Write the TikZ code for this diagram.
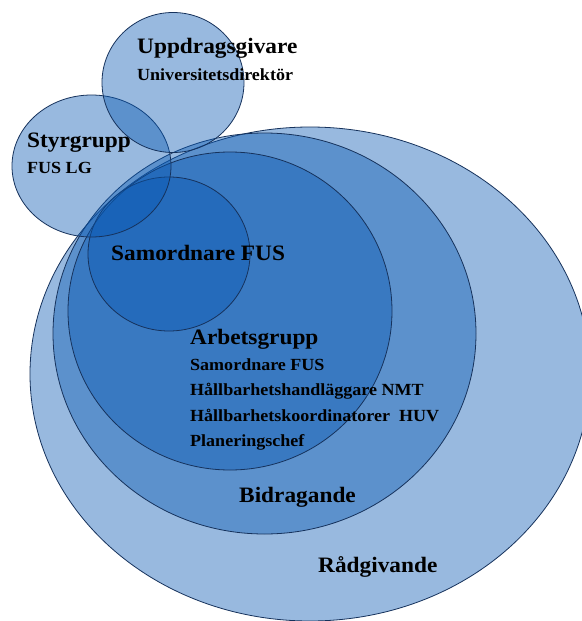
\documentclass[tikz,border=0pt]{standalone}
\usepackage{fontspec}
\setmainfont[FakeStretch=1.06]{Liberation Serif}
\usetikzlibrary{shapes.geometric}
\definecolor{ringfill}{RGB}{10,90,180}
\definecolor{ringline}{RGB}{22,50,92}
\tikzset{
  ring/.style={ellipse, inner sep=0pt, fill=ringfill, fill opacity=0.42, draw=ringline, draw opacity=1, line width=0.8pt},
  bigtxt/.style={anchor=base west, inner sep=0pt, font=\bfseries\fontsize{22}{24}\selectfont},
  smalltxt/.style={anchor=base west, inner sep=0pt, font=\bfseries\fontsize{17}{19}\selectfont}
}
\begin{document}
\begin{tikzpicture}[x=1pt,y=-1pt]
\fill[white] (0,0) rectangle (581,621);
\useasboundingbox (0,0) rectangle (581,621);
% rings
\node[ring, minimum width=560pt, minimum height=494pt] (radg) at (310,374) {};
\node[ring, minimum width=423pt, minimum height=401pt] (bidr) at (264.5,333.5) {};
\node[ring, minimum width=324pt, minimum height=318pt] (arbg) at (230,311) {};
\node[ring, minimum width=162pt, minimum height=154pt] (samo) at (169,254) {};
\node[ring, minimum width=159pt, minimum height=142pt] (styr) at (91.5,166) {};
\node[ring, minimum width=142pt, minimum height=140pt] (uppd) at (173,82.5) {};
% texts
\node[bigtxt] (tUppd) at (137,53) {Uppdragsgivare};
\node[smalltxt] (tUniv) at (137,80) {Universitetsdirektör};
\node[bigtxt] (tStyr) at (27,147) {Styrgrupp};
\node[smalltxt] (tFus) at (27,173) {FUS LG};
\node[bigtxt] (tSamo) at (111,260) {Samordnare FUS};
\node[bigtxt] (tArb) at (190,344) {Arbetsgrupp};
\node[smalltxt] (tA1) at (190,370) {Samordnare FUS};
\node[smalltxt] (tA2) at (190,395) {Hållbarhetshandläggare NMT};
\node[smalltxt] (tA3) at (190,421) {Hållbarhetskoordinatorer\ \ HUV};
\node[smalltxt] (tA4) at (190,446.5) {Planeringschef};
\node[bigtxt] (tBidr) at (239,502) {Bidragande};
\node[bigtxt] (tRadg) at (318,572) {Rådgivande};
\end{tikzpicture}
\end{document}
